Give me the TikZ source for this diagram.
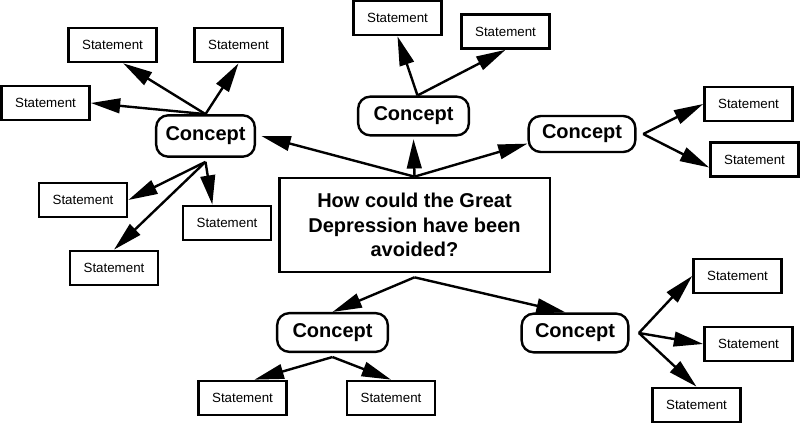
\documentclass[tikz,border=0pt]{standalone}
\usepackage{fontspec}
\setmainfont{Liberation Sans}
\usetikzlibrary{arrows.meta}

\begin{document}
\begin{tikzpicture}[
  x=0.75pt, y=-0.75pt,
  statement/.style = {draw, line width=2pt, minimum width=66pt, minimum height=25.5pt, inner sep=0pt, font=\fontsize{10}{12}\selectfont},
  concept/.style = {draw, line width=1.8pt, rounded corners=9pt, minimum width=80pt, minimum height=29pt, inner sep=0pt, font=\fontsize{15}{18}\selectfont\bfseries},
  question/.style = {draw, line width=2pt, minimum width=203pt, minimum height=70.5pt, align=center, font=\fontsize{15}{18.4}\selectfont\bfseries},
  link/.style = {line width=1.8pt, -{Triangle[length=22pt, width=11pt]}}
]

% Frame
\useasboundingbox (0,0) rectangle (800,423);

% Main question
\node[question] (q) at (414.5,225) {How could the Great\\Depression have been\\avoided?};

% Concepts
\node[concept, minimum width=74pt, minimum height=31pt] (cL) at (205.5,136) {Concept};
\node[concept, minimum width=83pt] (cT) at (413.5,116) {Concept};
\node[concept, minimum height=27pt] (cR) at (582,134) {Concept};
\node[concept, minimum width=83pt] (cBL) at (332.5,332.5) {Concept};
\node[concept] (cBR) at (575,333) {Concept};

% Statements
\node[statement] (s1) at (112.5,45) {Statement};
\node[statement] (s2) at (238.5,45) {Statement};
\node[statement] (s3) at (45.5,103) {Statement};
\node[statement] (s4) at (83,200) {Statement};
\node[statement] (s5) at (227,223) {Statement};
\node[statement] (s6) at (114,268) {Statement};
\node[statement] (s7) at (397.5,18) {Statement};
\node[statement] (s8) at (505.5,31.5) {Statement};
\node[statement] (s12) at (748.5,104) {Statement};
\node[statement] (s13) at (754.5,159.5) {Statement};
\node[statement] (s9) at (737.5,276) {Statement};
\node[statement] (s10) at (748.5,344) {Statement};
\node[statement] (s11) at (696.5,405) {Statement};
\node[statement] (s14) at (242.5,398) {Statement};
\node[statement] (s15) at (391,398) {Statement};

% Question to concepts
\draw[link] (q.north) -- ([xshift=4pt]cL.east);
\draw[link] (q.north) -- ([yshift=-2pt]cT.south);
\draw[link] (q.north) -- (cR.190);
\draw[link] ([yshift=-3pt]q.south) -- (cBL.north);
\draw[link] ([yshift=-3pt]q.south) -- ([xshift=-7pt]cBR.north);

% Left concept
\draw[link] (cL.north) -- ([xshift=8pt]s1.south);
\draw[link] (cL.north) -- (s2.south);
\draw[link] (cL.north) -- (s3.east);
\draw[link] ([yshift=-3pt]cL.south) -- (s4.east);
\draw[link] ([yshift=-3pt]cL.south) -- ([xshift=-11pt]s5.north);
\draw[link] ([yshift=-3pt]cL.south) -- (s6.north);

% Top concept
\draw[link] ([xshift=3pt]cT.north) -- (s7.south);
\draw[link] ([xshift=3pt]cT.north) -- (s8.south);

% Right concept
\draw[link] ([xshift=5pt]cR.east) -- (s12.west);
\draw[link] ([xshift=5pt]cR.east) -- ([yshift=-6pt]s13.west);

% Bottom right concept
\draw[link] ([xshift=7pt]cBR.east) -- (s9.west);
\draw[link] ([xshift=7pt]cBR.east) -- (s10.west);
\draw[link] ([xshift=7pt]cBR.east) -- (s11.north);

% Bottom left concept
\draw[link] ([yshift=-3pt]cBL.south) -- ([xshift=9pt]s14.north);
\draw[link] ([yshift=-3pt]cBL.south) -- (s15.north);

\end{tikzpicture}
\end{document}
